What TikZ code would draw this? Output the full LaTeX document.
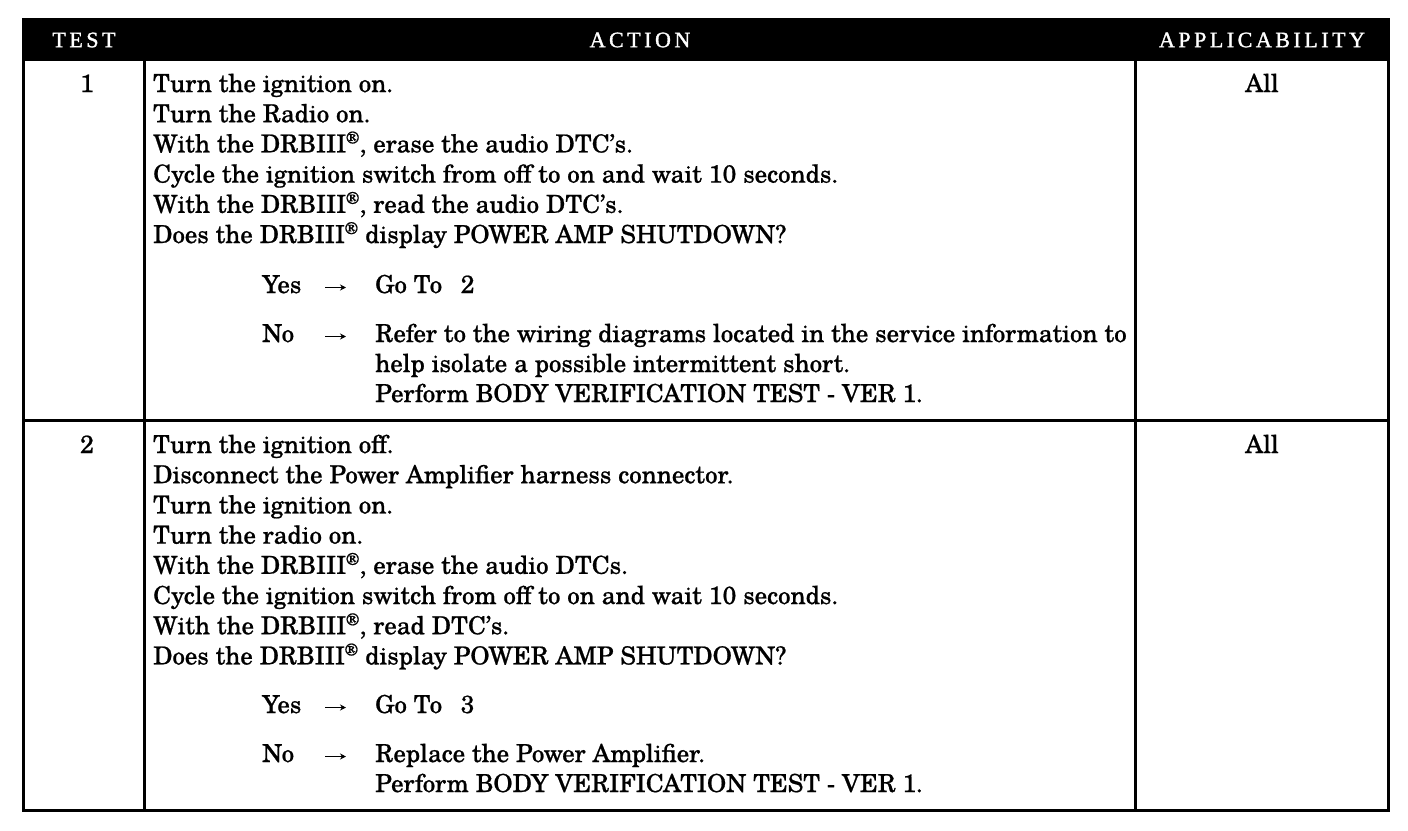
\documentclass[tikz,border=0pt]{standalone}
\usepackage{fontspec}
\usetikzlibrary{arrows.meta}
\setmainfont{TeX Gyre Schola}[FakeBold=0.8]
\newfontfamily\headfont{Liberation Serif}[LetterSpace=16,FakeBold=1.4]
\begin{document}
\begin{tikzpicture}[x=1pt,y=-1pt,
  body/.style={anchor=base west,inner sep=0pt,font=\fontsize{24.8}{30}\selectfont},
  num/.style={anchor=base,inner sep=0pt,font=\fontsize{24.8}{30}\selectfont},
  head/.style={anchor=center,inner sep=0pt,text=white,font=\headfont\fontsize{22}{24}\selectfont},
  rule/.style={line width=3pt},
  goarrow/.style={line width=1.8pt,-{Stealth[length=6pt,width=6pt]}}]
\useasboundingbox (0,0) rectangle (1408,830);
\fill[white] (0,0) rectangle (1408,830);
% header band
\fill[black] (22,18) rectangle (1390,61);
\node[head] (hTest) at (84,40) {TEST};
\node[head] (hAction) at (640,40) {ACTION};
\node[head] (hApp) at (1262,40) {APPLICABILITY};
% grid
\draw[rule] (23.5,60) -- (23.5,810.5) -- (1388.5,810.5) -- (1388.5,60);
\draw[rule] (144,60) -- (144,810);
\draw[rule] (1135,60) -- (1135,810);
\draw[rule] (23,420.5) -- (1389,420.5);
% row 1
\node[num] (n1) at (87,92) {1};
\node[num] (a1) at (1262,92) {All};
\node[body] (r1l1) at (153,92) {Turn the ignition on.};
\node[body] (r1l2) at (153,122.2) {Turn the Radio on.};
\node[body] (r1l3) at (153,152.4) {With the DRBIII\textsuperscript{®}, erase the audio DTC’s.};
\node[body] (r1l4) at (153,182.6) {Cycle the ignition switch from off to on and wait 10 seconds.};
\node[body] (r1l5) at (153,212.8) {With the DRBIII\textsuperscript{®}, read the audio DTC’s.};
\node[body] (r1l6) at (153,243) {Does the DRBIII\textsuperscript{®} display POWER AMP SHUTDOWN?};
\node[body] (r1yes) at (262,293) {Yes};
\coordinate (r1ya0) at (325,287.5);
\coordinate (r1ya1) at (346,287.5);
\draw[goarrow] (r1ya0) -- (r1ya1);
\node[body] (r1yt) at (375,293) {Go To\hspace{0.75em}2};
\node[body] (r1no) at (262,342) {No};
\coordinate (r1na0) at (325,336.5);
\coordinate (r1na1) at (346,336.5);
\draw[goarrow] (r1na0) -- (r1na1);
\node[body] (r1n1) at (375,342) {Refer to the wiring diagrams located in the service information to};
\node[body] (r1n2) at (375,372) {help isolate a possible intermittent short.};
\node[body] (r1n3) at (375,402) {Perform BODY VERIFICATION TEST - VER 1.};
% row 2
\node[num] (n2) at (87,453) {2};
\node[num] (a2) at (1262,453) {All};
\node[body] (r2l1) at (153,453) {Turn the ignition off.};
\node[body] (r2l2) at (153,483.2) {Disconnect the Power Amplifier harness connector.};
\node[body] (r2l3) at (153,513.4) {Turn the ignition on.};
\node[body] (r2l4) at (153,543.6) {Turn the radio on.};
\node[body] (r2l5) at (153,573.8) {With the DRBIII\textsuperscript{®}, erase the audio DTCs.};
\node[body] (r2l6) at (153,604) {Cycle the ignition switch from off to on and wait 10 seconds.};
\node[body] (r2l7) at (153,634.2) {With the DRBIII\textsuperscript{®}, read DTC’s.};
\node[body] (r2l8) at (153,664.4) {Does the DRBIII\textsuperscript{®} display POWER AMP SHUTDOWN?};
\node[body] (r2yes) at (262,713) {Yes};
\coordinate (r2ya0) at (325,707.5);
\coordinate (r2ya1) at (346,707.5);
\draw[goarrow] (r2ya0) -- (r2ya1);
\node[body] (r2yt) at (375,713) {Go To\hspace{0.75em}3};
\node[body] (r2no) at (262,762) {No};
\coordinate (r2na0) at (325,756.5);
\coordinate (r2na1) at (346,756.5);
\draw[goarrow] (r2na0) -- (r2na1);
\node[body] (r2n1) at (375,762) {Replace the Power Amplifier.};
\node[body] (r2n2) at (375,792) {Perform BODY VERIFICATION TEST - VER 1.};
\end{tikzpicture}
\end{document}
